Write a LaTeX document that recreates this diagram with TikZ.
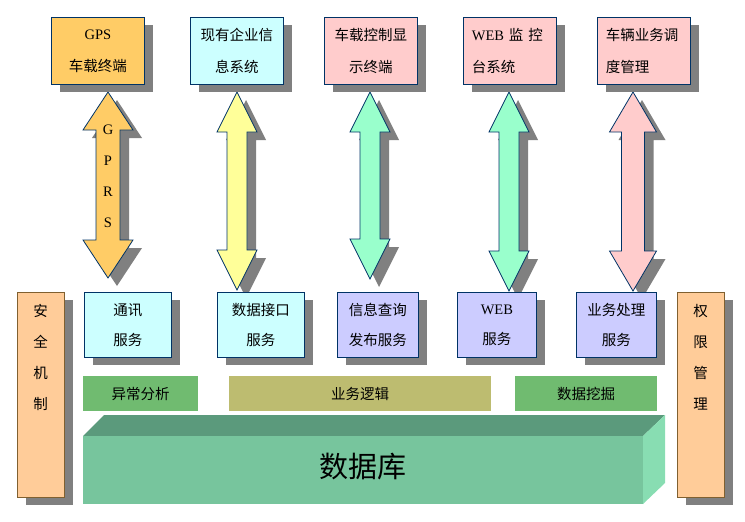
\documentclass[tikz,border=0pt]{standalone}
\usepackage{fontspec}
\setmainfont{Liberation Serif}
\newfontfamily\cjk{Noto Sans CJK SC}
\usepackage{tikz}
\usetikzlibrary{calc,shadows}
\definecolor{navyline}{RGB}{0,51,102}
\definecolor{shadowgray}{RGB}{128,128,128}
\definecolor{gpsorange}{RGB}{255,204,102}
\definecolor{lightcyan}{RGB}{204,255,255}
\definecolor{lightpink}{RGB}{255,204,204}
\definecolor{lilac}{RGB}{204,204,255}
\definecolor{paleyellow}{RGB}{255,255,153}
\definecolor{mint}{RGB}{153,255,204}
\definecolor{sideorange}{RGB}{255,204,153}
\definecolor{sidebrown}{RGB}{128,96,48}
\definecolor{bargreen}{RGB}{112,187,112}
\definecolor{barolive}{RGB}{189,188,112}
\definecolor{dbfront}{RGB}{119,197,157}
\definecolor{dbtop}{RGB}{91,154,124}
\definecolor{dbside}{RGB}{136,221,178}

% double headed block arrow: style, top tip, bottom tip, shaft half, head half, head length
\newcommand\blockarrow[6]{%
  \draw[#1] (#2) -- ($(#2)+(#5,#6)$) -- ($(#2)+(#4,#6)$) -- ($(#3)+(#4,-#6)$)
    -- ($(#3)+(#5,-#6)$) -- (#3) -- ($(#3)+(-#5,-#6)$) -- ($(#3)+(-#4,-#6)$)
    -- ($(#2)+(-#4,#6)$) -- ($(#2)+(-#5,#6)$) -- cycle;}

\begin{document}
\begin{tikzpicture}[x=1pt,y=-1pt,
  shad/.style={drop shadow={shadow xshift=9pt,shadow yshift=-8pt,fill=shadowgray,opacity=1}},
  topbox/.style={shad,draw=navyline,thick,anchor=north west,minimum width=93,minimum height=67,
    text width=76,align=center,font=\cjk\fontsize{14.5}{32}\selectfont},
  servbox/.style={shad,draw=navyline,thick,anchor=north west,minimum height=65,
    align=center,font=\cjk\fontsize{14.5}{30}\selectfont},
  sidebox/.style={shad,draw=sidebrown,fill=sideorange,anchor=north west,minimum width=47,minimum height=205},
  sidetext/.style={anchor=north,align=center,font=\cjk\fontsize{14.5}{31}\selectfont},
  bar/.style={anchor=north west,minimum height=35,font=\cjk\fontsize{14.5}{18}\selectfont},
  arrowbody/.style={shad,draw=navyline,thick,line join=miter}]
\useasboundingbox (0,0) rectangle (745,522);

% block arrows
\coordinate (a1t) at (108,92);  \coordinate (a1b) at (108,278);
\coordinate (a2t) at (237,92);  \coordinate (a2b) at (237,290);
\coordinate (a3t) at (370,92);  \coordinate (a3b) at (370,279);
\coordinate (a4t) at (509,92);  \coordinate (a4b) at (509,291);
\coordinate (a5t) at (633,92);  \coordinate (a5b) at (633,291);
\blockarrow{arrowbody,fill=gpsorange}{a1t}{a1b}{12}{25}{38}
\blockarrow{arrowbody,fill=paleyellow}{a2t}{a2b}{10}{20}{40}
\blockarrow{arrowbody,fill=mint}{a3t}{a3b}{10}{20}{40}
\blockarrow{arrowbody,fill=mint}{a4t}{a4b}{10}{20}{40}
\blockarrow{arrowbody,fill=lightpink}{a5t}{a5b}{11.5}{23.5}{40}
\node[align=center,font=\fontsize{14.5}{31}\selectfont] (gprs) at (108,176) {G\\P\\R\\S};

% terminals
\node[topbox,fill=gpsorange] (gps) at (51,17) {{\rmfamily GPS}\\车载终端};
\node[topbox,fill=lightcyan] (erp) at (190,17) {现有企业信\\息系统};
\node[topbox,fill=lightpink] (disp) at (324,17) {车载控制显\\示终端};
\node[topbox,fill=lightpink,align=left] (web) at (463,17) {{\rmfamily WEB} 监 控\\台系统};
\node[topbox,fill=lightpink,align=left] (sched) at (597,17) {车辆业务调\\度管理};

% services
\node[servbox,fill=lightcyan,minimum width=87] (comm) at (84,292) {通讯\\服务};
\node[servbox,fill=lightcyan,minimum width=87] (dif) at (217,292) {数据接口\\服务};
\node[servbox,fill=lilac,minimum width=81] (query) at (337,292) {信息查询\\发布服务};
\node[servbox,fill=lilac,minimum width=79] (websrv) at (457,292) {{\rmfamily WEB}\\服务};
\node[servbox,fill=lilac,minimum width=80] (biz) at (576,292) {业务处理\\服务};

% side columns
\node[sidebox] (safe) at (17,292) {};
\node[sidetext] (safetxt) at ($(safe.north)+(0,9)$) {安\\全\\机\\制};
\node[sidebox] (auth) at (677,292) {};
\node[sidetext] (authtxt) at ($(auth.north)+(0,9)$) {权\\限\\管\\理};

% middle layer
\node[bar,fill=bargreen,minimum width=115] (anom) at (83,376) {异常分析};
\node[bar,fill=barolive,minimum width=262] (logic) at (229,376) {业务逻辑};
\node[bar,fill=bargreen,minimum width=142] (mine) at (515,376) {数据挖掘};

% database
\fill[dbtop] (83,436) -- (104,415) -- (665,415) -- (643,436) -- cycle;
\fill[dbside] (643,436) -- (665,415) -- (665,483) -- (643,504) -- cycle;
\fill[dbfront] (83,436) rectangle (643,504);
\node[font=\cjk\fontsize{29}{32}\selectfont] (db) at (363,467) {数据库};
\end{tikzpicture}
\end{document}
